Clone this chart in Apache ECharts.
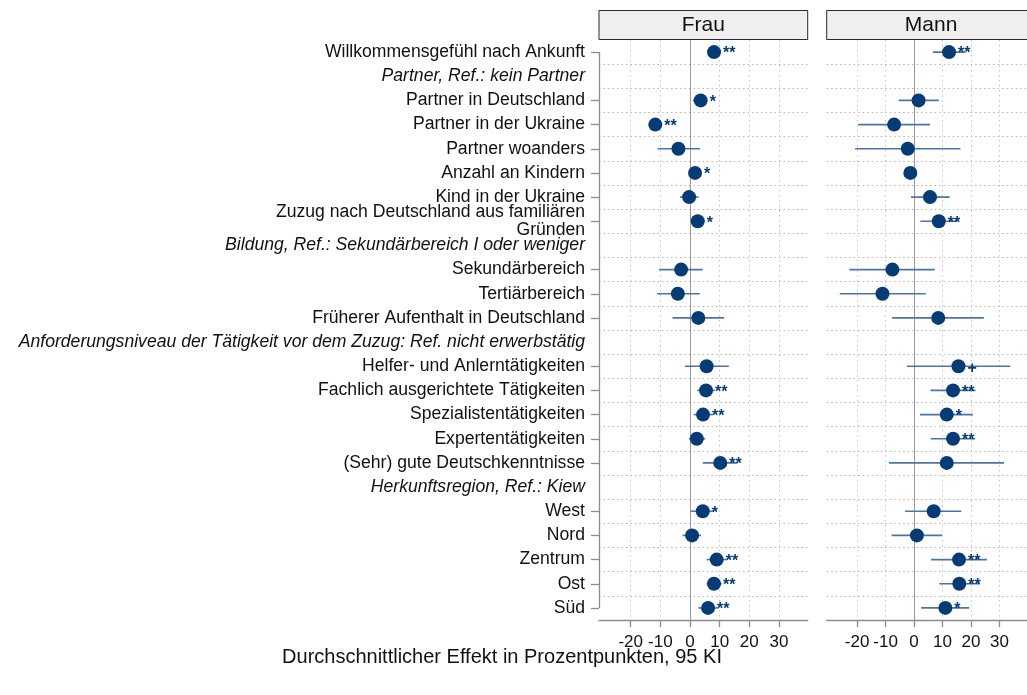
<!DOCTYPE html>
<html><head><meta charset="utf-8">
<script src="https://cdn.jsdelivr.net/npm/echarts@6/dist/echarts.min.js"></script>
<style>html,body{margin:0;padding:0;background:#fff}#c{width:1027px;height:695px}</style>
</head><body><div id="c"></div><script>
// ---------- data ----------
const categories = [
  'Willkommensgefühl nach Ankunft',
  'Partner, Ref.: kein Partner',
  'Partner in Deutschland',
  'Partner in der Ukraine',
  'Partner woanders',
  'Anzahl an Kindern',
  'Kind in der Ukraine',
  'Zuzug nach Deutschland aus familiären\nGründen',
  'Bildung, Ref.: Sekundärbereich I oder weniger',
  'Sekundärbereich',
  'Tertiärbereich',
  'Früherer Aufenthalt in Deutschland',
  'Anforderungsniveau der Tätigkeit vor dem Zuzug: Ref. nicht erwerbstätig',
  'Helfer- und Anlerntätigkeiten',
  'Fachlich ausgerichtete Tätigkeiten',
  'Spezialistentätigkeiten',
  'Expertentätigkeiten',
  '(Sehr) gute Deutschkenntnisse',
  'Herkunftsregion, Ref.: Kiew',
  'West',
  'Nord',
  'Zentrum',
  'Ost',
  'Süd'
];
const headerRows = [
  'Partner, Ref.: kein Partner',
  'Bildung, Ref.: Sekundärbereich I oder weniger',
  'Anforderungsniveau der Tätigkeit vor dem Zuzug: Ref. nicht erwerbstätig',
  'Herkunftsregion, Ref.: Kiew'
];
const panelTitles = ['Frau', 'Mann'];
const tickValues = [-20, -10, 0, 10, 20, 30];
const axisTitle = 'Durchschnittlicher Effekt in Prozentpunkten, 95 KI';

const frauEst = [8.1, null, 3.6, -11.7, -3.9, 1.7, -0.3, 2.6, null, -3.0, -4.1, 2.8, null, 5.6, 5.4, 4.4, 2.3, 10.2, null, 4.3, 0.7, 9.0, 8.1, 6.1];
const frauLo  = [6.4, null, 0.9, -13.5, -10.9, 0.4, -3.4, 0.3, null, -10.4, -11.1, -5.9, null, -1.7, 2.5, 1.2, -0.4, 4.3, null, 0.2, -2.5, 5.6, 5.6, 2.8];
const frauHi  = [9.8, null, 5.8, -9.8, 3.4, 3.0, 2.9, 4.8, null, 4.3, 3.3, 11.5, null, 13.1, 8.4, 7.7, 5.1, 16.0, null, 7.9, 3.7, 12.4, 10.7, 9.6];
const frauSig = ['**', '', '*', '**', '', '*', '', '*', '', '', '', '', '', '', '**', '**', '', '**', '', '*', '', '**', '**', '**'];

const mannEst = [12.3, null, 1.6, -7.0, -2.2, -1.3, 5.6, 8.7, null, -7.6, -11.1, 8.5, null, 15.6, 13.7, 11.5, 13.7, 11.5, null, 6.9, 1.0, 15.8, 15.9, 11.0];
const mannLo  = [6.6, null, -5.4, -19.6, -20.7, -2.6, -1.1, 2.2, null, -22.7, -26.1, -7.7, null, -2.5, 5.8, 2.1, 5.9, -8.8, null, -3.2, -7.9, 6.0, 8.9, 2.5];
const mannHi  = [18.0, null, 8.7, 5.6, 16.3, 0.0, 12.5, 15.2, null, 7.3, 4.1, 24.5, null, 33.8, 21.6, 20.7, 21.5, 31.6, null, 16.6, 9.8, 25.6, 23.2, 19.4];
const mannSig = ['**', '', '', '', '', '', '', '**', '', '', '', '', '', '+', '**', '*', '**', '', '', '', '', '**', '**', '*'];

// ---------- style ----------
const FONT = "'Liberation Sans', Arial, Helvetica, sans-serif";
const NAVY = '#073b76';
const CI = '#4a75aa';
const AX = '#8c8c8c';
const X_MIN = -30.68, X_MAX = 39.68;
const GRID_TOP = 40, GRID_H = 580, GRID_W = 208.7;
const gridLefts = [599, 826.7];
const isHeader = categories.map(c => headerRows.includes(c));
const panels = [
  {est: frauEst, lo: frauLo, hi: frauHi, sig: frauSig},
  {est: mannEst, lo: mannLo, hi: mannHi, sig: mannSig}
];
const firstData = isHeader.indexOf(false);
const lastData = isHeader.lastIndexOf(false);

const chart = echarts.init(document.getElementById('c'), null, {renderer: 'canvas'});

const grid = gridLefts.map(l => ({left: l, top: GRID_TOP, width: GRID_W, height: GRID_H}));

const xAxis = gridLefts.map((l, i) => ({
  type: 'value', gridIndex: i, min: X_MIN, max: X_MAX, position: 'bottom',
  axisLine: {show: true, onZero: false, lineStyle: {color: AX, width: 1.3}},
  axisTick: {show: true, customValues: tickValues, length: 7, lineStyle: {color: AX, width: 1.3}},
  axisLabel: {show: true, customValues: tickValues, fontSize: 17, color: '#111', fontFamily: FONT, margin: 14},
  splitLine: {show: false}
}));

const yAxis = gridLefts.map((l, i) => ({
  type: 'category', gridIndex: i, data: categories, inverse: true, boundaryGap: true, position: 'left',
  axisLine: {show: false, onZero: false},
  axisTick: {show: i === 0, alignWithLabel: true, interval: idx => !isHeader[idx], length: 8,
             lineStyle: {color: AX, width: 1.3}},
  axisLabel: {
    show: i === 0, interval: 0, margin: 14, fontSize: 17.6, lineHeight: 18, color: '#111', fontFamily: FONT,
    formatter: (v, idx) => isHeader[idx] ? '{h|' + v + '}' : v,
    rich: {h: {fontStyle: 'italic', fontSize: 17.6, fontFamily: FONT, color: '#111'}}
  },
  splitLine: {show: true, interval: 0, showMinLine: false, showMaxLine: false,
              lineStyle: {color: '#b4b4b4', type: [1.5, 3], width: 1}}
}));

const series = [];
panels.forEach((p, i) => {
  const mlData = tickValues.map(v => ({
    xAxis: v,
    lineStyle: v === 0 ? {color: '#9a9a9a', type: 'solid', width: 1}
                       : {color: '#c4c4c4', type: [1.5, 3.5], width: 1}
  }));
  if (i === 0) {
    mlData.push([{coord: [X_MIN, firstData], lineStyle: {color: AX, type: 'solid', width: 1.3}},
                 {coord: [X_MIN, lastData]}]);
  }
  series.push({
    type: 'line', xAxisIndex: i, yAxisIndex: i, data: [], z: 1, silent: true,
    markLine: {z: 1, silent: true, symbol: ['none', 'none'], label: {show: false}, animation: false, data: mlData}
  });
  const ebData = [];
  const dotData = [];
  p.est.forEach((e, k) => {
    if (e === null) return;
    ebData.push([p.lo[k], p.hi[k], k]);
    const s = p.sig[k];
    dotData.push({
      value: [e, k],
      label: {show: !!s, formatter: s || '', offset: [0, 2]}
    });
  });
  series.push({
    type: 'custom', xAxisIndex: i, yAxisIndex: i, z: 3, silent: true,
    encode: {x: [0, 1], y: 2},
    data: ebData,
    renderItem: (params, api) => {
      const a = api.coord([api.value(0), api.value(2)]);
      const b = api.coord([api.value(1), api.value(2)]);
      return {type: 'line', shape: {x1: a[0], y1: a[1], x2: b[0], y2: b[1]},
              style: {stroke: CI, lineWidth: 1.6}};
    }
  });
  series.push({
    type: 'scatter', xAxisIndex: i, yAxisIndex: i, z: 4, silent: true,
    symbol: 'circle', symbolSize: 14,
    itemStyle: {color: NAVY, opacity: 1},
    label: {position: 'right', distance: 2, color: NAVY, fontSize: 16, fontWeight: 'bold', fontFamily: FONT},
    data: dotData
  });
});

const graphic = [];
gridLefts.forEach((l, i) => {
  graphic.push({type: 'rect', silent: true, z: 10,
    shape: {x: l, y: 10.5, width: GRID_W, height: 29},
    style: {fill: '#efefef', stroke: '#2b2b2b', lineWidth: 1}});
  graphic.push({type: 'text', silent: true, z: 11, x: l + GRID_W / 2, y: 25.5,
    style: {text: panelTitles[i], fontSize: 21, fontFamily: FONT, fill: '#111', align: 'center', verticalAlign: 'middle'}});
});
graphic.push({type: 'text', silent: true, x: 502, y: 657,
  style: {text: axisTitle, fontSize: 20, fontFamily: FONT, fill: '#111', align: 'center', verticalAlign: 'middle'}});

chart.setOption({
  animation: false,
  backgroundColor: '#fff',
  grid, xAxis, yAxis, series, graphic
});
</script></body></html>
